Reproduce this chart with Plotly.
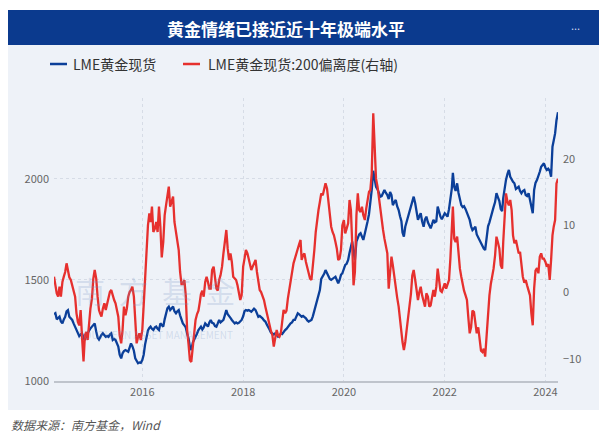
import pandas as pd
import plotly.graph_objects as go

# ---------- data: readings on the 1st, 11th and 21st of each month, Apr 2014 - Apr 2024 ----------
dates = [pd.Timestamp(y, m, d)
         for y in range(2014, 2025) for m in range(1, 13) for d in (1, 11, 21)
         if pd.Timestamp(2014, 4, 1) <= pd.Timestamp(y, m, d) <= pd.Timestamp(2024, 4, 1)]

gold_spot = [
    1330, 1335, 1305, 1310, 1318, 1295, 1285, 1305, 1318, 1345,
    1351, 1318, 1310, 1302, 1285, 1269, 1258, 1245, 1222, 1230,
    1236, 1212, 1203, 1225, 1238, 1250, 1260, 1269, 1280, 1285,
    1245, 1215, 1205, 1219, 1228, 1236, 1225, 1219, 1222, 1218,
    1230, 1236, 1203, 1208, 1203, 1190, 1170, 1130, 1112, 1137,
    1148, 1153, 1150, 1145, 1165, 1186, 1172, 1150, 1112, 1098,
    1088, 1092, 1090, 1104, 1130, 1180, 1225, 1250, 1262, 1269,
    1258, 1252, 1265, 1269, 1258, 1252, 1285, 1275, 1269, 1305,
    1330, 1360, 1368, 1351, 1360, 1368, 1345, 1335, 1345, 1351,
    1325, 1300, 1285, 1275, 1265, 1235, 1212, 1170, 1153, 1190,
    1203, 1219, 1235, 1252, 1262, 1269, 1255, 1265, 1285, 1275,
    1269, 1290, 1302, 1288, 1285, 1272, 1269, 1285, 1302, 1290,
    1295, 1302, 1325, 1351, 1330, 1318, 1312, 1302, 1295, 1285,
    1290, 1285, 1288, 1298, 1302, 1320, 1345, 1351, 1348, 1351,
    1345, 1343, 1350, 1358, 1351, 1330, 1318, 1322, 1318, 1310,
    1300, 1294, 1280, 1269, 1255, 1240, 1236, 1230, 1236, 1228,
    1219, 1225, 1236, 1232, 1245, 1252, 1258, 1269, 1275, 1285,
    1290, 1302, 1302, 1320, 1335, 1330, 1325, 1318, 1322, 1318,
    1310, 1300, 1294, 1298, 1302, 1320, 1351, 1380, 1401, 1430,
    1450, 1505, 1516, 1530, 1549, 1530, 1516, 1505, 1500, 1505,
    1512, 1516, 1500, 1483, 1500, 1525, 1533, 1550, 1574, 1580,
    1599, 1635, 1665, 1690, 1640, 1599, 1690, 1714, 1725, 1731,
    1715, 1698, 1730, 1770, 1790, 1825, 1880, 1945, 2040, 2000,
    1960, 1948, 1925, 1912, 1915, 1935, 1945, 1930, 1920, 1900,
    1935, 1920, 1870, 1885, 1896, 1865, 1846, 1815, 1790, 1735,
    1714, 1763, 1790, 1813, 1840, 1863, 1895, 1912, 1879, 1830,
    1797, 1815, 1830, 1790, 1763, 1800, 1813, 1785, 1770, 1755,
    1775, 1797, 1785, 1790, 1863, 1830, 1813, 1800, 1815, 1830,
    1822, 1813, 1850, 1900, 1950, 2030, 1960, 1940, 1978, 1930,
    1890, 1870, 1860, 1865, 1850, 1830, 1815, 1797, 1765, 1747,
    1755, 1763, 1725, 1710, 1698, 1680, 1665, 1655, 1648, 1720,
    1765, 1785, 1815, 1840, 1860, 1885, 1929, 1910, 1890, 1850,
    1840, 1905, 1960, 1995, 2025, 2044, 2010, 1995, 1985, 1978,
    1950, 1955, 1961, 1940, 1929, 1940, 1945, 1920, 1915, 1929,
    1900, 1860, 1830, 1945, 1980, 1995, 2011, 2035, 2060, 2070,
    2077, 2055, 2044, 2050, 2040, 2011, 2159, 2190, 2225, 2290,
    2330,
]

deviation_200 = [
    2.3, 1.0, -0.2, -0.7, 0.8, -0.7, 1.5, 2.3, 3.0, 4.3,
    3.0, 2.2, 1.8, 1.0, 0.3, -0.7, -3.2, -4.5, -5.0, -2.7,
    -6.7, -10.4, -6.5, -6.0, -7.2, -4.0, -2.5, -1.0, 2.0, 3.3,
    2.0, -0.7, -2.7, -3.2, -3.7, -2.5, -1.7, -2.7, -1.8, -0.7,
    0.0, 0.3, -0.6, -1.2, -1.7, -2.5, -3.7, -6.5, -7.7, -5.7,
    -2.2, -3.5, -2.5, -0.7, 0.0, 0.3, 0.8, -0.7, -5.5, -7.7,
    -6.8, -6.2, -7.2, -5.7, -2.0, 2.5, 6.5, 10.0, 11.8, 10.5,
    12.8, 9.0, 9.5, 10.5, 9.0, 12.8, 9.8, 5.2, 7.5, 11.5,
    13.0, 14.8, 15.8, 12.8, 13.8, 14.3, 10.5, 9.0, 7.8, 6.3,
    3.0, 1.2, 1.2, 1.8, -0.5, -5.7, -7.8, -10.2, -10.5, -8.5,
    -6.5, -4.2, -3.3, -2.8, -1.5, -0.3, 0.2, -0.7, 1.5, 2.3,
    1.5, 0.5, 0.5, 3.3, 3.8, 2.5, 0.5, 0.2, 1.8, 2.5,
    3.8, 5.8, 7.5, 9.3, 6.5, 4.8, 5.8, 4.5, 2.3, 2.0,
    1.8, 1.0, 0.0, -1.2, -0.5, 3.8, 5.0, 6.3, 5.8, 4.8,
    3.8, 3.3, 3.8, 4.3, 4.8, 3.0, 1.5, 0.3, 0.0, -0.5,
    -1.2, -2.2, -3.2, -4.2, -4.8, -5.8, -6.5, -8.2, -7.0, -5.7,
    -6.5, -6.7, -6.2, -4.0, -2.7, -3.2, -2.8, -1.0, 0.3, 1.8,
    3.0, 4.3, 5.0, 5.8, 6.5, 7.2, 7.8, 4.8, 5.5, 5.8,
    4.5, 3.5, 2.6, 2.0, 1.8, 3.5, 6.3, 9.0, 11.0, 12.3,
    13.5, 14.8, 14.5, 15.3, 16.3, 15.5, 13.3, 11.5, 9.8, 9.0,
    8.5, 7.5, 6.5, 4.8, 5.0, 6.3, 10.0, 10.8, 8.8, 9.5,
    10.3, 13.8, 12.3, 7.5, 1.0, 3.0, 11.5, 14.8, 12.3, 12.0,
    12.8, 11.5, 10.8, 12.5, 13.8, 15.0, 15.3, 17.8, 26.8, 21.0,
    17.0, 15.8, 14.0, 12.8, 11.0, 9.3, 8.0, 6.8, 5.8, 0.5,
    3.5, 5.3, 4.0, 2.0, 0.3, -0.8, -2.2, -4.2, -6.0, -7.5,
    -8.7, -7.5, -5.5, -3.7, -2.7, -0.3, 2.5, 3.3, 1.8, -0.2,
    -1.2, 0.0, 0.8, -0.5, -1.5, -2.2, -0.2, -0.7, -2.2, -2.0,
    -0.8, 0.3, -0.7, 0.8, 3.5, 2.0, 0.2, 0.0, 0.8, 1.3,
    0.5, 1.0, 1.8, 5.0, 8.5, 12.8, 8.0, 7.5, 8.3, 5.5,
    3.5, 2.3, 1.0, 0.2, -0.5, -1.2, -3.8, -6.2, -5.3, -2.8,
    -3.0, -4.5, -6.2, -5.3, -7.0, -8.8, -9.0, -8.5, -9.7, -6.0,
    -2.2, -0.5, 1.2, 2.3, 3.5, 5.5, 8.3, 7.5, 6.5, 4.0,
    3.5, 7.5, 11.3, 14.8, 13.5, 13.0, 13.8, 12.3, 8.5, 7.3,
    7.8, 6.5, 5.8, 6.0, 4.0, 2.3, 1.4, 1.8, 1.0, 0.0,
    -0.5, -3.2, -5.0, 0.5, 3.2, 3.6, 2.8, 5.3, 5.8, 5.0,
    5.0, 4.5, 3.8, 4.2, 1.8, 4.8, 8.5, 9.8, 10.8, 16.3,
    17.0,
]

series_names = ["LME黄金现货", "LME黄金现货:200偏离度(右轴)"]
title_text = "黄金情绪已接近近十年极端水平"
source_text = "数据来源：南方基金，Wind"

left_ticks = [1000, 1500, 2000]
right_ticks = [-10, 0, 10, 20]

BLUE = "#0b3f99"
RED = "#e6302e"
BG = "#eef2f8"
CJK = "Noto Sans CJK SC, Noto Sans, sans-serif"

# ---------- geometry ----------
# the page body adds an 8px margin, so positions are given in screen pixels
# and shifted back by OFF
W, H = 607, 437
OFF = 8
PLOT_X0, PLOT_X1 = 54, 558     # screen px
PLOT_Y0, PLOT_Y1 = 98, 381
L = PLOT_X0 - OFF
R = W - (PLOT_X1 - OFF)
T = PLOT_Y0 - OFF
B = H - (PLOT_Y1 - OFF)
PW, PH = PLOT_X1 - PLOT_X0, PLOT_Y1 - PLOT_Y0


def px(x):
    return (x - PLOT_X0) / PW


def py(y):
    return (PLOT_Y1 - y) / PH


fig = go.Figure()
fig.add_trace(go.Scatter(x=dates, y=gold_spot, name=series_names[0],
                         mode="lines", line=dict(color=BLUE, width=2.3),
                         yaxis="y"))
fig.add_trace(go.Scatter(x=dates, y=deviation_200, name=series_names[1],
                         mode="lines", line=dict(color=RED, width=2.3),
                         yaxis="y2"))

shapes = [
    # light panel
    dict(type="rect", xref="paper", yref="paper", x0=px(0), x1=px(W + 10),
         y0=py(410), y1=py(45), fillcolor=BG, line_width=0, layer="below"),
    # title bar
    dict(type="rect", xref="paper", yref="paper", x0=px(2), x1=px(W + 10),
         y0=py(45), y1=py(10), fillcolor="#0b3a8e", line_width=0, layer="below"),
    # legend swatches
    dict(type="line", xref="paper", yref="paper", x0=px(50), x1=px(67),
         y0=py(64), y1=py(64), line=dict(color=BLUE, width=2.5)),
    dict(type="line", xref="paper", yref="paper", x0=px(183), x1=px(200),
         y0=py(64), y1=py(64), line=dict(color=RED, width=2.5)),
]


def label(text, x, y, size, color, xanchor="center", **font):
    return dict(text=text, xref="paper", yref="paper", x=px(x), y=py(y),
                xanchor=xanchor, yanchor="middle", showarrow=False,
                font=dict(family=CJK, size=size, color=color, **font))


annotations = [
    label(title_text, 286, 28, 17, "white", weight="bold"),
    label("...", 575, 25, 11, "#c8d4ea"),
    label(series_names[0], 71, 64, 14, "#333333", xanchor="left"),
    label(series_names[1], 206, 64, 14, "#333333", xanchor="left"),
    label(source_text, 9, 424, 12, "#555555", xanchor="left", style="italic"),
    # watermark
    label("南  方  基  金", 155, 290, 30, "rgba(120,150,195,0.22)"),
    label("SOUTHERN ASSET MANAGEMENT", 155, 334, 10, "rgba(120,150,195,0.25)"),
]

tick_font = dict(family=CJK, size=11, color="#666666")

fig.update_layout(
    width=W, height=H,
    margin=dict(l=L, r=R, t=T, b=B),
    paper_bgcolor="white",
    plot_bgcolor=BG,
    showlegend=False,
    shapes=shapes,
    annotations=annotations,
    xaxis=dict(
        range=["2014-04-01", "2024-04-01"],
        tickvals=["2016-01-01", "2018-01-01", "2020-01-01", "2022-01-01", "2024-01-01"],
        ticktext=["2016", "2018", "2020", "2022", "2024"],
        showgrid=True, gridcolor="#d6dce6", griddash="dot", gridwidth=1,
        showline=True, linecolor="#bfc4cc", linewidth=1.5,
        ticks="", tickfont=tick_font, zeroline=False,
    ),
    yaxis=dict(
        range=[1000, 2400], tickvals=left_ticks,
        showgrid=True, gridcolor="#d6dce6", griddash="dot", gridwidth=1,
        showline=False, zeroline=False, ticks="", tickfont=tick_font,
        ticklabelstandoff=4,
    ),
    yaxis2=dict(
        range=[-13.35, 29.1], tickvals=right_ticks, overlaying="y", side="right",
        showgrid=False, showline=False, zeroline=False, ticks="", tickfont=tick_font,
        ticklabelstandoff=4,
    ),
)

fig.write_html("out.html")
